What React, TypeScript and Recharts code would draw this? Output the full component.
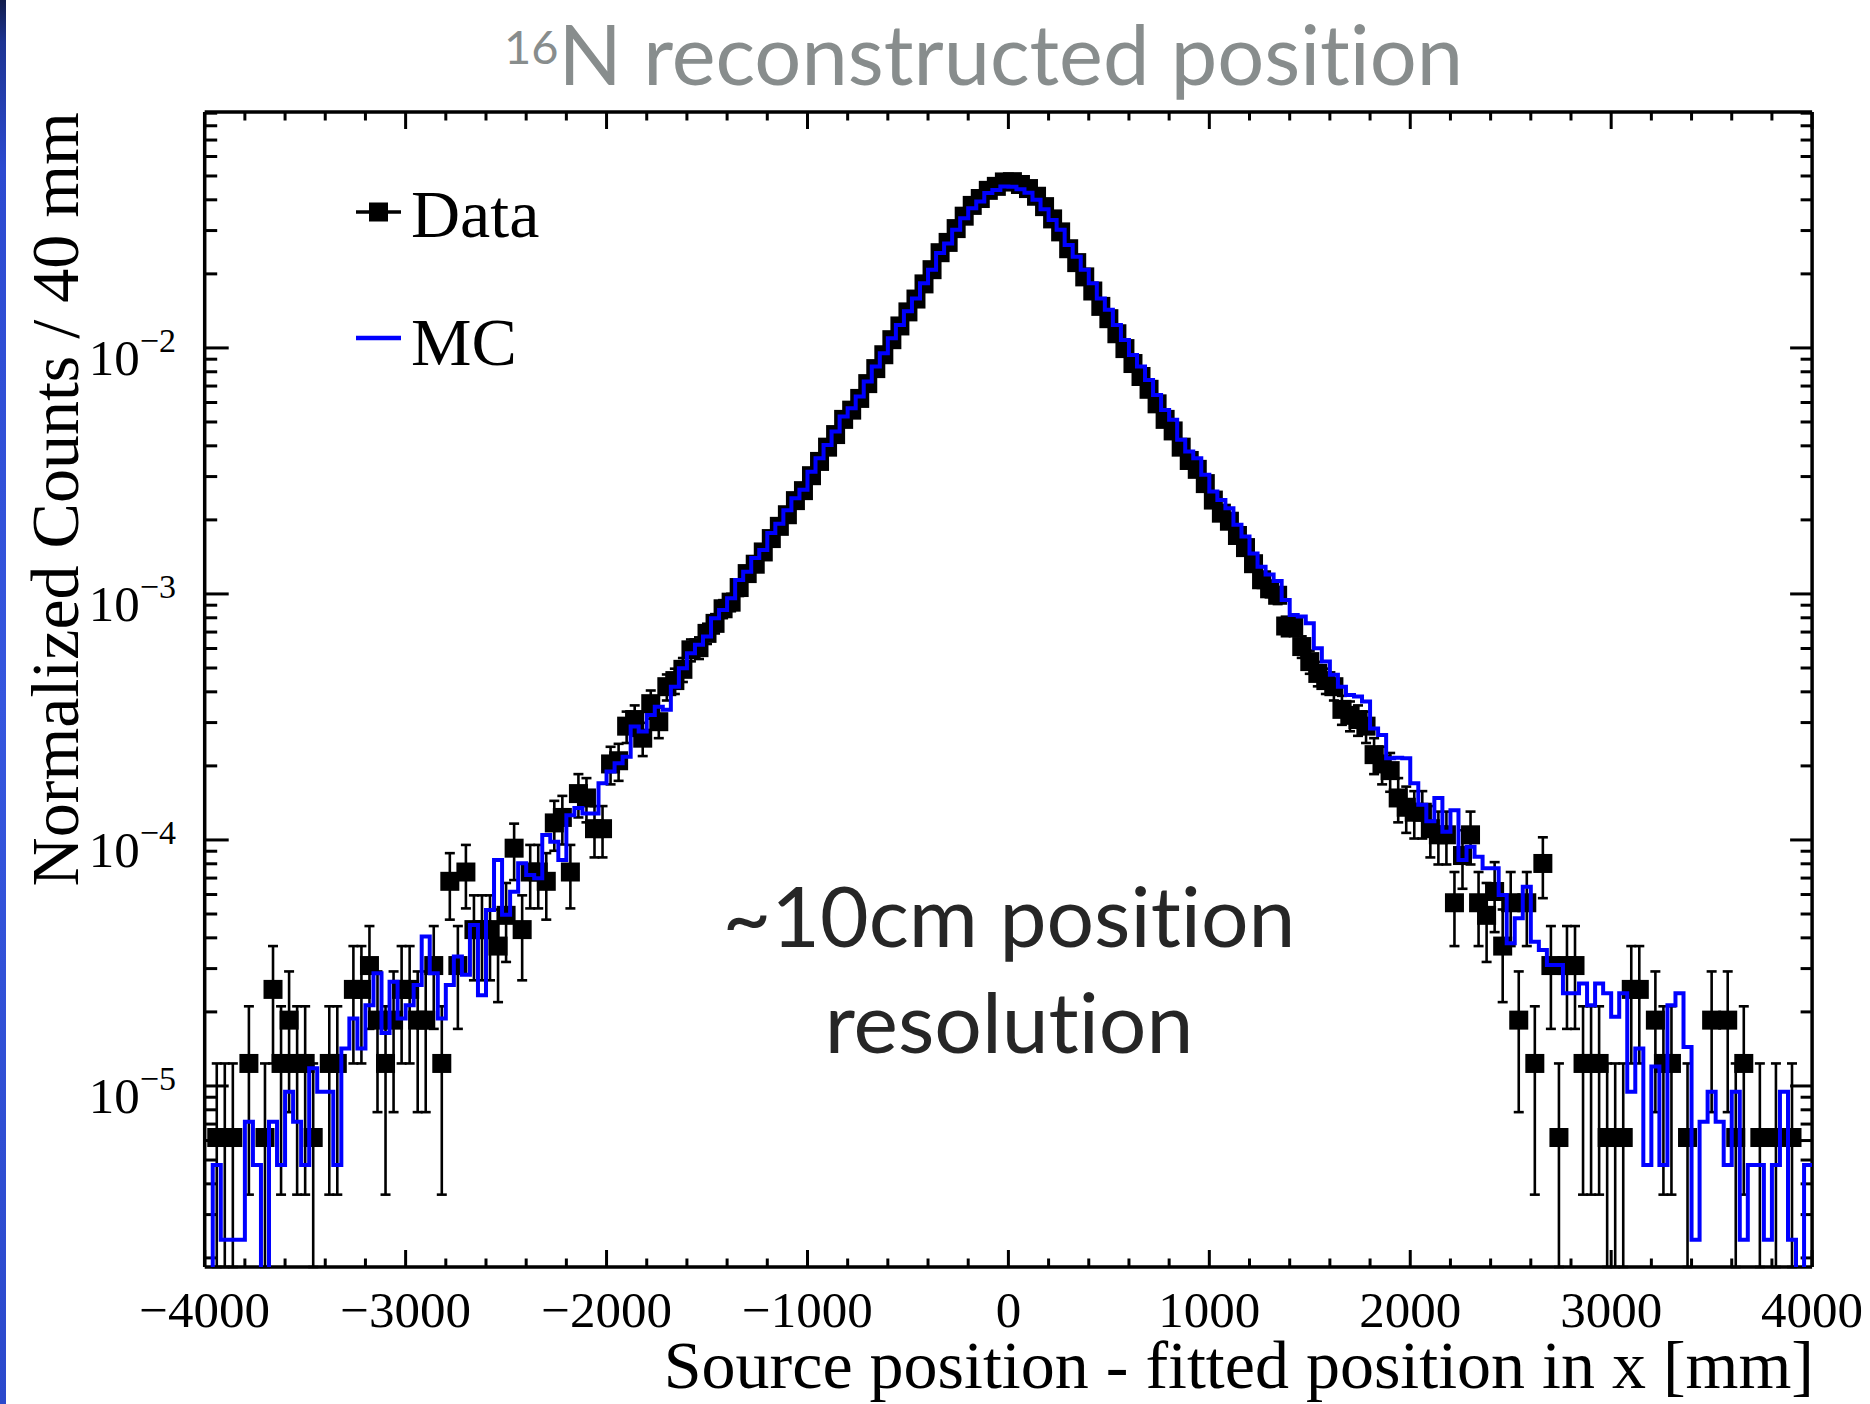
import React from 'react';
import { ComposedChart, LineChart, Line, Scatter, XAxis, YAxis, ErrorBar } from 'recharts';

// ---- binning -------------------------------------------------------------
const BIN_WIDTH = 40; // mm
const X_RANGE: [number, number] = [-4000, 4000];
const Y_RANGE: [number, number] = [1.837e-6, 0.091];
const MC_EMPTY = 1e-9; // empty MC bins fall below the axis range

// ---- data: event counts per 40 mm bin (normalised by DATA_TOTAL) ---------
const DATA_TOTAL = 162000;
const dataCounts = [
  0, 1, 1, 1, 0, 2, 0, 1, 4, 2,
  3, 2, 2, 1, 0, 2, 2, 0, 4, 4,
  5, 3, 2, 3, 4, 4, 3, 3, 5, 2,
  11, 5, 12, 7, 7, 7, 6, 8, 15, 7,
  12, 12, 11, 19, 20, 12, 25, 24, 18, 18,
  33, 34, 47, 50, 42, 58, 49, 68, 72, 80,
  96, 98, 112, 123, 141, 150, 172, 196, 214, 240,
  272, 305, 340, 388, 426, 490, 560, 640, 720, 830,
  905, 1010, 1160, 1335, 1520, 1750, 1990, 2270, 2560, 2950,
  3370, 3950, 4350, 4950, 5560, 6150, 6560, 7080, 7350, 7660,
  7680, 7480, 7200, 6700, 6080, 5420, 4800, 4100, 3600, 3150,
  2760, 2390, 2130, 1850, 1610, 1400, 1240, 1100, 960, 830,
  745, 640, 565, 520, 455, 390, 345, 320, 280, 250,
  215, 185, 170, 160, 120, 120, 99, 86, 77, 72,
  68, 55, 52, 50, 47, 36, 33, 31, 24, 22,
  21, 21, 18, 17, 17, 9, 14, 17, 9, 8,
  10, 6, 9, 3, 9, 2, 13, 5, 1, 5,
  5, 2, 2, 2, 1, 1, 1, 4, 4, 0,
  3, 2, 2, 0, 1, 0, 0, 3, 0, 3,
  1, 2, 0, 1, 0, 1, 0, 1, 0, 0,
];

// ---- MC: normalised content per 40 mm bin --------------------------------
const mcValues = [
  0, 4.77e-6, 2.37e-6, 2.37e-6, 2.37e-6, 7.16e-6, 4.77e-6, 0, 7.16e-6, 4.77e-6,
  9.48e-6, 7.16e-6, 4.77e-6, 1.18e-5, 9.48e-6, 9.48e-6, 4.77e-6, 1.42e-5, 1.88e-5, 1.42e-5,
  2.13e-5, 2.87e-5, 1.64e-5, 2.65e-5, 1.88e-5, 2.13e-5, 2.57e-5, 4.05e-5, 2.87e-5, 1.88e-5,
  2.57e-5, 3.36e-5, 2.83e-5, 4.51e-5, 2.34e-5, 5.19e-5, 8.29e-5, 4.96e-5, 6.16e-5, 8.04e-5,
  7.21e-5, 6.98e-5, 1.047e-4, 9.84e-5, 8.29e-5, 1.26e-4, 1.35e-4, 1.28e-4, 1.28e-4, 1.7e-4,
  1.9e-4, 2.05e-4, 2.18e-4, 2.89e-4, 2.76e-4, 3.22e-4, 3.48e-4, 3.38e-4, 4.2e-4, 4.99e-4,
  5.74e-4, 6.21e-4, 6.71e-4, 7.96e-4, 8.61e-4, 9.6e-4, 1.14e-3, 1.23e-3, 1.4e-3, 1.51e-3,
  1.77e-3, 1.93e-3, 2.19e-3, 2.45e-3, 2.65e-3, 3.14e-3, 3.56e-3, 4.03e-3, 4.57e-3, 5.26e-3,
  5.69e-3, 6.34e-3, 7.3e-3, 8.4e-3, 9.51e-3, 1.095e-2, 1.24e-2, 1.41e-2, 1.59e-2, 1.83e-2,
  2.08e-2, 2.43e-2, 2.66e-2, 3.02e-2, 3.37e-2, 3.7e-2, 3.94e-2, 4.26e-2, 4.39e-2, 4.53e-2,
  4.52e-2, 4.42e-2, 4.27e-2, 4.0e-2, 3.66e-2, 3.31e-2, 3.02e-2, 2.62e-2, 2.35e-2, 2.08e-2,
  1.83e-2, 1.59e-2, 1.43e-2, 1.24e-2, 1.078e-2, 9.37e-3, 8.4e-3, 7.41e-3, 6.44e-3, 5.6e-3,
  5.1e-3, 4.23e-3, 3.79e-3, 3.56e-3, 3.05e-3, 2.61e-3, 2.41e-3, 2.23e-3, 1.91e-3, 1.71e-3,
  1.46e-3, 1.29e-3, 1.2e-3, 1.13e-3, 9.45e-4, 8.21e-4, 8.09e-4, 7.6e-4, 6.02e-4, 5.31e-4,
  4.69e-4, 4.2e-4, 3.88e-4, 3.83e-4, 3.65e-4, 2.84e-4, 2.67e-4, 2.15e-4, 2.16e-4, 2.15e-4,
  1.7e-4, 1.39e-4, 1.19e-4, 1.48e-4, 1.08e-4, 1.32e-4, 8.29e-5, 9.39e-5, 8.55e-5, 7.67e-5,
  7.67e-5, 5.97e-5, 3.8e-5, 4.81e-5, 6.46e-5, 3.86e-5, 3.57e-5, 3.1e-5, 3.1e-5, 2.38e-5,
  2.38e-5, 2.61e-5, 2.13e-5, 2.61e-5, 2.38e-5, 1.91e-5, 2.38e-5, 9.48e-6, 1.42e-5, 4.77e-6,
  1.2e-5, 4.77e-6, 2.13e-5, 2.38e-5, 1.44e-5, 2.37e-6, 7.16e-6, 9.48e-6, 7.16e-6, 4.77e-6,
  9.48e-6, 2.37e-6, 4.77e-6, 4.77e-6, 2.37e-6, 4.77e-6, 9.48e-6, 2.37e-6, 0, 4.77e-6,
];

// ---- axis ticks ----------------------------------------------------------
const xMajorTicks = [-4000, -3000, -2000, -1000, 0, 1000, 2000, 3000, 4000];
const xTickLabels = ['\u22124000', '\u22123000', '\u22122000', '\u22121000', '0', '1000', '2000', '3000', '4000'];
const X_MINOR_STEP = 200;
const yMajorTicks = [1e-5, 1e-4, 1e-3, 1e-2];
const yTickExponents = ['\u22125', '\u22124', '\u22123', '\u22122'];
const yMantissas = [1, 2, 3, 4, 5, 6, 7, 8, 9];
const yDecades = [1e-6, 1e-5, 1e-4, 1e-3, 1e-2];

const xTicks: number[] = [];
for (let v = X_RANGE[0]; v <= X_RANGE[1]; v += X_MINOR_STEP) xTicks.push(v);
const yTicks: number[] = [];
yDecades.forEach((d) => yMantissas.forEach((m) => {
  const v = +(m * d).toPrecision(3);
  if (v >= Y_RANGE[0] && v <= Y_RANGE[1]) yTicks.push(v);
}));

// ---- series built from the arrays ---------------------------------------
const dataPoints = dataCounts
  .map((c, i) => ({ c, x: X_RANGE[0] + (i + 0.5) * BIN_WIDTH }))
  .filter((d) => d.c > 0)
  .map((d) => {
    const y = d.c / DATA_TOTAL;
    const e = Math.sqrt(d.c) / DATA_TOTAL;
    return { x: d.x, y, err: [Math.min(e, y - Y_RANGE[0]), e] };
  });

const mcLine = mcValues.map((v, i) => ({ x: X_RANGE[0] + i * BIN_WIDTH, y: v > 0 ? v : MC_EMPTY }));
mcLine.push({ x: X_RANGE[1], y: mcLine[mcLine.length - 1].y });

// ---- layout --------------------------------------------------------------
const W = 1870;
const H = 1404;
const PLOT = { left: 204.7, right: 1812.1, top: 112, bottom: 1267 };
const AX = 1; // thickness reserved for each axis box
const SERIF = "'Liberation Serif', 'Times New Roman', Times, serif";
const SANS = "Lato, 'Open Sans', sans-serif";
const FRAME = { stroke: '#000', strokeWidth: 3.5 };
const NO_LIGA = { fontVariantLigatures: 'none' as const, fontFeatureSettings: '"liga" 0' };

const isDecade = (v: number) => Math.abs(Math.log10(v) - Math.round(Math.log10(v))) < 1e-6;

function BottomTick(props: any) {
  const { x, y, payload } = props;
  const idx = xMajorTicks.indexOf(payload.value);
  const major = idx >= 0;
  return (
    <g>
      <line x1={x} x2={x} y1={y} y2={y - (major ? 17 : 8.5)} stroke="#000" strokeWidth={3} />
      {major && (
        <text x={x} y={y + 60} textAnchor="middle" fontFamily={SERIF} fontSize={51} fill="#000">
          {xTickLabels[idx]}
        </text>
      )}
    </g>
  );
}

function TopTick(props: any) {
  const { x, y, payload } = props;
  const major = xMajorTicks.indexOf(payload.value) >= 0;
  return <line x1={x} x2={x} y1={y} y2={y + (major ? 17 : 8.5)} stroke="#000" strokeWidth={3} />;
}

function LeftTick(props: any) {
  const { x, y, payload } = props;
  const v = payload.value;
  const major = isDecade(v);
  const idx = yMajorTicks.findIndex((t) => Math.abs(Math.log10(t) - Math.log10(v)) < 1e-6);
  return (
    <g>
      <line x1={x} x2={x + (major ? 24 : 12.5)} y1={y} y2={y} stroke="#000" strokeWidth={3} />
      {idx >= 0 && (
        <text x={176} y={y + 27} textAnchor="end" fontFamily={SERIF} fontSize={51} fill="#000">
          10
          <tspan dy={-23} fontSize={34}>{yTickExponents[idx]}</tspan>
        </text>
      )}
    </g>
  );
}

function RightTick(props: any) {
  const { x, y, payload } = props;
  const major = isDecade(payload.value);
  return <line x1={x} x2={x - (major ? 22 : 11.5)} y1={y} y2={y} stroke="#000" strokeWidth={3} />;
}

function Square(props: any) {
  const { cx, cy } = props;
  return <rect x={cx - 9.5} y={cy - 9.5} width={19} height={19} fill="#000" />;
}

const frameMargin = {
  top: PLOT.top - AX,
  bottom: H - PLOT.bottom - AX,
  left: PLOT.left - AX,
  right: W - PLOT.right - AX,
};
const plotMargin = { top: PLOT.top, bottom: H - PLOT.bottom, left: PLOT.left, right: W - PLOT.right };

export default function App() {
  return (
    <div style={{ position: 'absolute', left: 0, top: 0, width: W, height: H, background: '#fff', overflow: 'hidden' }}>
      <div
        style={{
          position: 'absolute', left: 0, top: 0, width: 6, height: H,
          background: 'linear-gradient(to bottom, #121d4c 0%, #1d3492 3%, #2c4ad0 12%, #3556de 50%, #2b49cc 100%)',
        }}
      />

      {/* frame, ticks and data points */}
      <div style={{ position: 'absolute', left: 0, top: 0 }}>
        <ComposedChart width={W} height={H} margin={frameMargin}>
          <XAxis
            xAxisId="bottom"
            dataKey="x"
            type="number"
            domain={X_RANGE}
            allowDataOverflow
            ticks={xTicks}
            interval={0}
            height={AX}
            tickSize={0}
            tickMargin={0}
            tickLine={false}
            axisLine={FRAME}
            tick={<BottomTick />}
          />
          <XAxis
            xAxisId="top"
            orientation="top"
            dataKey="x"
            type="number"
            domain={X_RANGE}
            allowDataOverflow
            ticks={xTicks}
            interval={0}
            height={AX}
            tickSize={0}
            tickMargin={0}
            tickLine={false}
            axisLine={FRAME}
            tick={<TopTick />}
          />
          <YAxis
            yAxisId="left"
            dataKey="y"
            type="number"
            scale="log"
            domain={Y_RANGE}
            allowDataOverflow
            ticks={yTicks}
            interval={0}
            width={AX}
            tickSize={0}
            tickMargin={0}
            tickLine={false}
            axisLine={FRAME}
            tick={<LeftTick />}
          />
          <YAxis
            yAxisId="right"
            orientation="right"
            dataKey="y"
            type="number"
            scale="log"
            domain={Y_RANGE}
            allowDataOverflow
            ticks={yTicks}
            interval={0}
            width={AX}
            tickSize={0}
            tickMargin={0}
            tickLine={false}
            axisLine={FRAME}
            tick={<RightTick />}
          />
          <Scatter
            xAxisId="bottom"
            yAxisId="left"
            data={dataPoints}
            dataKey="y"
            shape={Square}
            isAnimationActive={false}
          >
            <ErrorBar dataKey="err" direction="y" width={5} strokeWidth={2.6} stroke="#000" isAnimationActive={false} />
          </Scatter>
        </ComposedChart>
      </div>

      {/* MC histogram drawn above the data points */}
      <div style={{ position: 'absolute', left: 0, top: 0 }}>
        <LineChart width={W} height={H} margin={plotMargin}>
          <XAxis dataKey="x" type="number" domain={X_RANGE} allowDataOverflow hide />
          <YAxis dataKey="y" type="number" scale="log" domain={Y_RANGE} allowDataOverflow hide />
          <Line
            data={mcLine}
            dataKey="y"
            type="stepAfter"
            stroke="#0000ff"
            strokeWidth={4}
            dot={false}
            activeDot={false}
            isAnimationActive={false}
          />
        </LineChart>
      </div>

      <svg width={W} height={H} style={{ position: 'absolute', left: 0, top: 0, pointerEvents: 'none' }}>
        <text x={504} y={85} fontFamily={SANS} fontSize={83} fill="#888d8d" style={NO_LIGA}>
          <tspan fontSize={47} dy={-21}>16</tspan>
          <tspan dy={21}>N reconstructed position</tspan>
        </text>

        <text transform="translate(78,112) rotate(-90)" textAnchor="end" fontFamily={SERIF} fontSize={68} fill="#000">
          Normalized Counts / 40 mm
        </text>
        <text x={1814} y={1388} textAnchor="end" fontFamily={SERIF} fontSize={68} fill="#000">
          Source position - fitted position in x [mm]
        </text>

        <line x1={356} x2={401} y1={212} y2={212} stroke="#000" strokeWidth={3.5} />
        <rect x={369} y={202.5} width={19} height={19} fill="#000" />
        <text x={411} y={237} fontFamily={SERIF} fontSize={68} fill="#000">Data</text>
        <line x1={356} x2={401} y1={338} y2={338} stroke="#0000ff" strokeWidth={4.5} />
        <text x={411} y={365} fontFamily={SERIF} fontSize={68} fill="#000">MC</text>

        <text x={1009} y={947} textAnchor="middle" fontFamily={SANS} fontSize={84} fill="#262626" style={NO_LIGA}>
          ~10cm position
        </text>
        <text x={1009} y={1053} textAnchor="middle" fontFamily={SANS} fontSize={84} fill="#262626" style={NO_LIGA}>
          resolution
        </text>
      </svg>
    </div>
  );
}
